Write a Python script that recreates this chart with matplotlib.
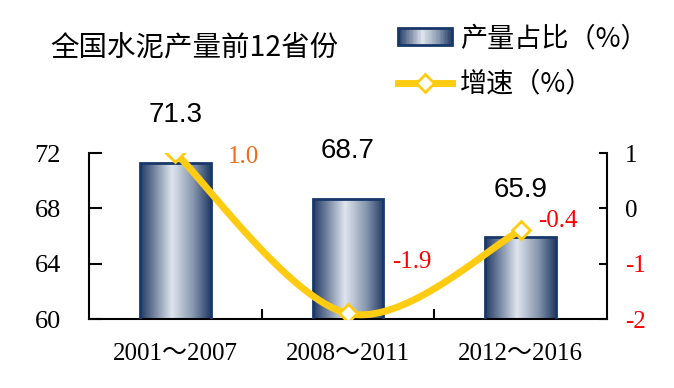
import matplotlib
matplotlib.use('Agg')
import matplotlib.pyplot as plt
import numpy as np
from matplotlib.colors import LinearSegmentedColormap
from matplotlib.legend_handler import HandlerBase
from matplotlib.patches import Rectangle
from matplotlib.lines import Line2D

# data
periods = ['2001～2007', '2008～2011', '2012～2016']
share = [71.3, 68.7, 65.9]          # 产量占比 (%)
growth = [1.0, -1.9, -0.4]          # 增速 (%)
growth_labels = ['1.0', '-1.9', '-0.4']
growth_label_colors = ['#f26a1b', '#ff0000', '#ff0000']
right_ticks = [-2, -1, 0, 1]
right_tick_colors = ['#ff0000', '#ff0000', 'black', 'black']

plt.rcParams['font.family'] = ['Liberation Serif', 'Noto Sans CJK SC']
plt.rcParams['axes.unicode_minus'] = False

YELLOW = '#ffcc11'
NAVY = '#17386a'
cmap = LinearSegmentedColormap.from_list(
    'bar', [(0, '#223a66'), (0.2, '#74849f'), (0.45, '#dfe5ee'), (0.75, '#8797ae'), (1, '#223a66')])


def catmull_rom(xs, ys, n=60):
    pts = np.column_stack([xs, ys]).astype(float)
    P = np.vstack([pts[0], pts, pts[-1]])
    t = np.linspace(0, 1, n)[:, None]
    h00 = 2 * t**3 - 3 * t**2 + 1
    h10 = t**3 - 2 * t**2 + t
    h01 = -2 * t**3 + 3 * t**2
    h11 = t**3 - t**2
    segs = []
    for i in range(1, len(P) - 2):
        p0, p1, p2, p3 = P[i - 1], P[i], P[i + 1], P[i + 2]
        m1 = (p2 - p0) / 2
        m2 = (p3 - p1) / 2
        segs.append(h00 * p1 + h10 * m1 + h01 * p2 + h11 * m2)
    c = np.vstack(segs)
    return c[:, 0], c[:, 1]


class GradHandler(HandlerBase):
    def create_artists(self, legend, orig_handle, xdescent, ydescent,
                       width, height, fontsize, trans):
        arts = []
        n = 40
        for i in range(n):
            arts.append(Rectangle((-xdescent + i * width / n, -ydescent), width / n, height,
                                  facecolor=cmap((i + 0.5) / n), edgecolor='none',
                                  transform=trans))
        arts.append(Rectangle((-xdescent, -ydescent), width, height, facecolor='none',
                              edgecolor=NAVY, lw=2, transform=trans))
        return arts


fig = plt.figure(figsize=(6.74, 3.88), dpi=100)
ax = fig.add_axes([89 / 674, 1 - 319 / 388, (607 - 89) / 674, (319 - 153) / 388])
x = np.arange(len(periods))

ax.set_xlim(-0.5, len(periods) - 0.5)
ax.set_ylim(60, 72)
bars = ax.bar(x, share, width=0.41, facecolor='none', edgecolor=NAVY, lw=2, zorder=3)
grad = np.linspace(0, 1, 256).reshape(1, -1)
for b in bars:
    im = ax.imshow(grad, cmap=cmap, aspect='auto', zorder=2,
                   extent=[b.get_x(), b.get_x() + b.get_width(), 60, b.get_height()])
    im.set_clip_path(b)
ax.set_xlim(-0.5, len(periods) - 0.5)
ax.set_ylim(60, 72)

ax.set_yticks([60, 64, 68, 72])
ax.tick_params(axis='y', direction='in', length=9, width=1.5, labelsize=19, pad=20)
ax.set_xticks(x[:-1] + 0.5)
ax.set_xticklabels([])
ax.set_xticks(x, minor=True)
ax.set_xticklabels(periods, minor=True)
ax.tick_params(axis='x', which='major', direction='in', length=7, width=1.5)
ax.tick_params(axis='x', which='minor', length=0, labelsize=18, pad=17)
for s in ['top', 'right']:
    ax.spines[s].set_visible(False)
for s in ['left', 'bottom']:
    ax.spines[s].set_linewidth(1.5)

for b, v in zip(bars, share):
    ax.annotate(f'{v:.1f}', (b.get_x() + b.get_width() / 2, v), xytext=(0, 34),
                textcoords='offset points', ha='center', va='center',
                fontsize=20, family='Liberation Sans')

ax2 = ax.twinx()
ax2.set_ylim(-2, 1)
ax2.set_yticks(right_ticks)
ax2.tick_params(axis='y', direction='in', length=6, width=1.5, labelsize=18, pad=13)
for lbl, c in zip(ax2.get_yticklabels(), right_tick_colors):
    lbl.set_color(c)
for s in ['top', 'left', 'bottom']:
    ax2.spines[s].set_visible(False)
ax2.spines['right'].set_linewidth(1.5)

sx, sy = catmull_rom(x, growth)
ax2.plot(sx, sy, color=YELLOW, lw=5, solid_capstyle='round', zorder=4)
ax2.plot(x, growth, ls='none', marker='D', markersize=9, mfc='white', mec=YELLOW,
         mew=2, zorder=5)

label_offsets = [(49, -3), (46, 37), (27, 7)]
for xi, v, t, c, off in zip(x, growth, growth_labels, growth_label_colors, label_offsets):
    ax2.annotate(t, (xi, v), xytext=off, textcoords='offset points',
                 ha='center', va='center', fontsize=18, color=c)

fig.text(50 / 674, 1 - 47 / 388, '全国水泥产量前12省份', family='Noto Sans CJK SC',
         fontsize=20.5, ha='left', va='center')

bar_proxy = Rectangle((0, 0), 1, 1)
line_proxy = Line2D([], [], color=YELLOW, lw=5, marker='D', markersize=9,
                    mfc='white', mec=YELLOW, mew=2)
fig.legend([bar_proxy, line_proxy], ['产量占比（%）', '增速（%）'],
           handler_map={bar_proxy: GradHandler()},
           loc='upper left', bbox_to_anchor=(398 / 674, 1 - 25 / 388),
           frameon=False, prop={'family': 'Noto Sans CJK SC', 'size': 19.5},
           handlelength=2.0, handleheight=0.55, handletextpad=0.3,
           labelspacing=0.68, borderpad=0, borderaxespad=0, numpoints=1)

fig.savefig('out.png', dpi=100)
